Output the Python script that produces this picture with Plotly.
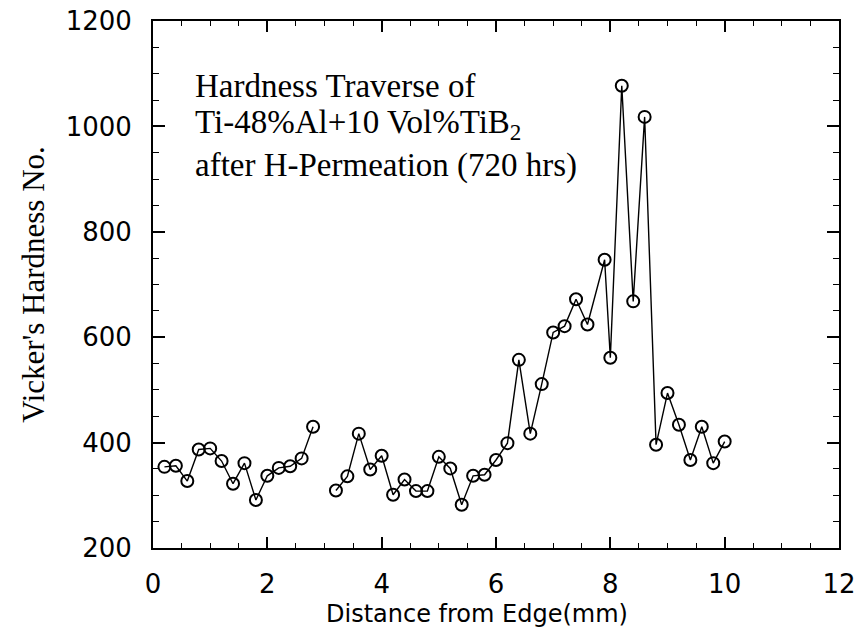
import plotly.graph_objects as go

# Distance from edge (mm) and Vicker's hardness
distance = [0.2, 0.4, 0.6, 0.8, 1.0, 1.2, 1.4, 1.6, 1.8, 2.0, 2.2, 2.4, 2.6, 2.8,
            3.0,
            3.2, 3.4, 3.6, 3.8, 4.0, 4.2, 4.4, 4.6, 4.8, 5.0, 5.2, 5.4, 5.6, 5.8, 6.0,
            6.2, 6.4, 6.6, 6.8, 7.0, 7.2, 7.4, 7.6, 7.9, 8.0,
            8.2, 8.4, 8.6, 8.8, 9.0, 9.2, 9.4, 9.6, 9.8, 10.0]
hardness = [354, 356, 327, 387, 389, 365, 322, 361, 291, 337, 352, 355, 370, 430,
            None,
            309, 336, 417, 349, 375, 301, 330, 308, 308, 373, 351, 282, 337, 339, 367,
            399, 557, 417, 511, 609, 621, 672, 624, 747, 561,
            1077, 668, 1018, 396, 494, 434, 367, 430, 361, 402]

x_ticks = [0, 2, 4, 6, 8, 10, 12]
y_ticks = [200, 400, 600, 800, 1000, 1200]

x_title = "Distance from Edge(mm)"
y_title = "Vicker's Hardness No."
note_lines = ["Hardness Traverse of",
              "Ti-48%Al+10 Vol%TiB<sub>2</sub>",
              "after H-Permeation (720 hrs)"]

fig = go.Figure()
fig.add_trace(go.Scatter(
    x=distance, y=hardness, mode="lines+markers",
    connectgaps=False,
    line=dict(color="black", width=1.4),
    marker=dict(symbol="circle-open", size=12, color="black",
                line=dict(color="black", width=2)),
    showlegend=False,
))

tick_font = dict(family="DejaVu Sans", size=26, color="black")

# page body has an 8px margin: figure is sized/offset to compensate
fig.update_layout(
    width=857, height=625,
    margin=dict(l=145, r=26, t=13, b=85),
    paper_bgcolor="white", plot_bgcolor="white",
    xaxis=dict(
        range=[0, 12], tickvals=x_ticks, ticks="inside", ticklen=11, tickwidth=1.5,
        tickcolor="black", showline=True, linewidth=2, linecolor="black",
        mirror="allticks", showgrid=False, zeroline=False, automargin=False,
        minor=dict(ticks="inside", ticklen=5, dtick=0.5, tickcolor="black", tickwidth=1),
        tickfont=tick_font, ticklabelstandoff=12, ticklabeloverflow="allow",
    ),
    yaxis=dict(
        range=[200, 1200], tickvals=y_ticks, ticks="inside", ticklen=12, tickwidth=1.5,
        tickcolor="black", showline=True, linewidth=2, linecolor="black",
        mirror="allticks", showgrid=False, zeroline=False, automargin=False,
        minor=dict(ticks="inside", ticklen=6, dtick=50, tickcolor="black", tickwidth=1),
        tickfont=tick_font, ticklabelstandoff=14, ticklabeloverflow="allow",
        title=dict(text=y_title,
                   font=dict(family="Liberation Serif", size=31, color="black"),
                   standoff=12),
    ),
)

fig.add_annotation(
    text=x_title, xref="paper", yref="paper", x=0.473, y=-0.125,
    xanchor="center", yanchor="middle", showarrow=False,
    font=dict(family="DejaVu Sans", size=24, color="black"),
)

note_y = [0.876, 0.803, 0.7266]
for txt, yy in zip(note_lines, note_y):
    fig.add_annotation(
        text=txt, xref="paper", yref="paper", x=0.059, y=yy,
        xanchor="left", yanchor="middle", showarrow=False,
        font=dict(family="Liberation Serif", size=33, color="black"),
    )

fig.write_html("out.html")
